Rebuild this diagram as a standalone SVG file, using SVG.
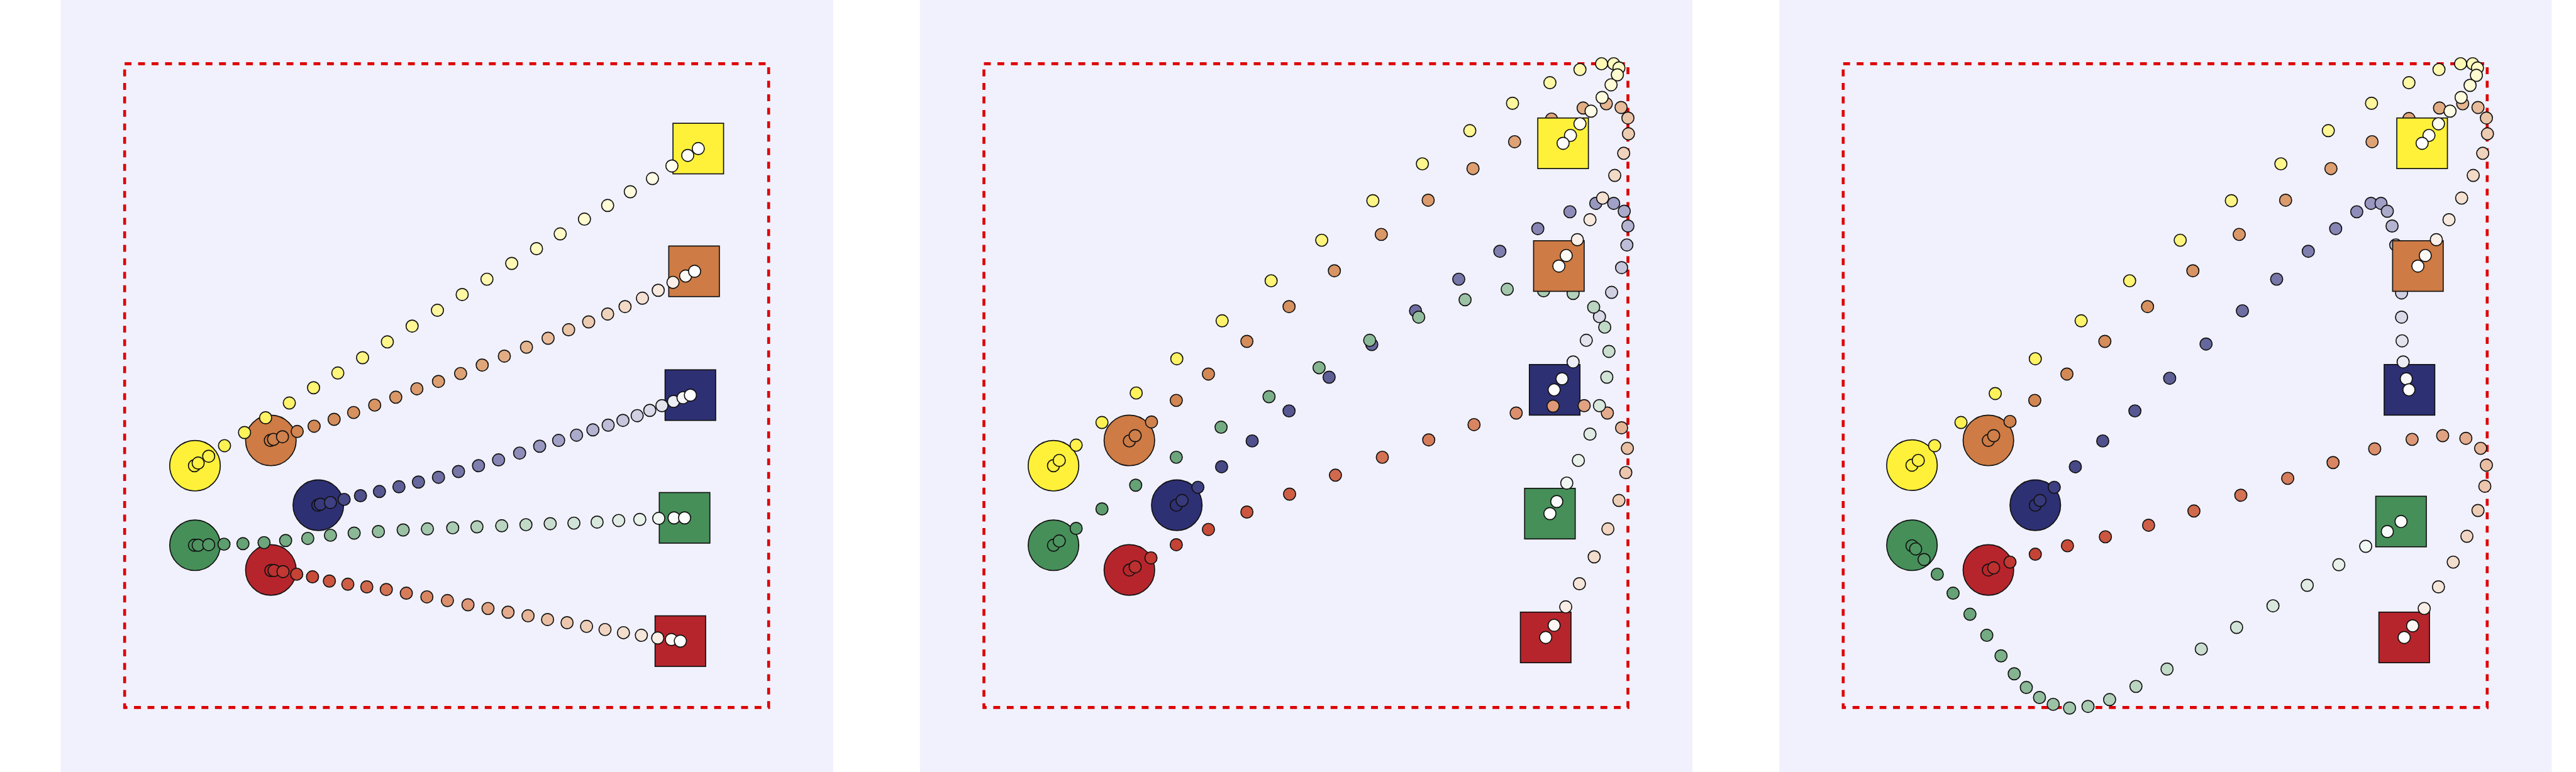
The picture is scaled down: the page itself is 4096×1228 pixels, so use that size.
<svg xmlns="http://www.w3.org/2000/svg" width="4096" height="1228" viewBox="0 0 4096 1228">
<style>
.bg{fill:#F1F1FD}
.bound{fill:none;stroke:#DD0000;stroke-width:5.5;stroke-dasharray:13 12.6}
.agent,.goal,.t circle{stroke:#111;stroke-width:2}
.cy{fill:#FFF13A}.co{fill:#CE7B45}.cn{fill:#2E3074}.cg{fill:#468F59}.cr{fill:#B7252C}
.N0{fill:#2F3175}.N1{fill:#37397B}.N2{fill:#3F4081}.N3{fill:#474886}.N4{fill:#4F508C}.N5{fill:#575792}.N6{fill:#5F5F98}.N7{fill:#66679D}.N8{fill:#6E6EA3}.N9{fill:#7676A9}.N10{fill:#7E7EAF}.N11{fill:#8685B4}.N12{fill:#8E8DBA}.N13{fill:#9797C0}.N14{fill:#A1A0C6}.N15{fill:#AAAACB}.N16{fill:#B4B3D1}.N17{fill:#BDBDD7}.N18{fill:#C6C6DD}.N19{fill:#D0D0E2}.N20{fill:#D9D9E8}.N21{fill:#E3E3EE}.N22{fill:#ECECF4}.N23{fill:#F6F6F9}.N24{fill:#FFFFFF}
.G0{fill:#468F59}.G1{fill:#4E9460}.G2{fill:#559867}.G3{fill:#5D9D6E}.G4{fill:#65A275}.G5{fill:#6DA67C}.G6{fill:#74AB82}.G7{fill:#7CB089}.G8{fill:#84B490}.G9{fill:#8BB997}.G10{fill:#93BE9E}.G11{fill:#9BC2A5}.G12{fill:#A3C7AC}.G13{fill:#AACCB3}.G14{fill:#B2D0BA}.G15{fill:#BAD5C1}.G16{fill:#C1DAC8}.G17{fill:#C9DECF}.G18{fill:#D1E3D6}.G19{fill:#D8E8DC}.G20{fill:#E0ECE3}.G21{fill:#E8F1EA}.G22{fill:#F0F6F1}.G23{fill:#F7FAF8}.G24{fill:#FFFFFF}
.Y0{fill:#FFEF3A}.Y1{fill:#FFF042}.Y2{fill:#FFF04A}.Y3{fill:#FFF153}.Y4{fill:#FFF25B}.Y5{fill:#FFF263}.Y6{fill:#FFF36B}.Y7{fill:#FFF473}.Y8{fill:#FFF47C}.Y9{fill:#FFF584}.Y10{fill:#FFF68C}.Y11{fill:#FFF694}.Y12{fill:#FFF79D}.Y13{fill:#FFF8A5}.Y14{fill:#FFF8AD}.Y15{fill:#FFF9B5}.Y16{fill:#FFFABD}.Y17{fill:#FFFAC6}.Y18{fill:#FFFBCE}.Y19{fill:#FFFCD6}.Y20{fill:#FFFCDE}.Y21{fill:#FFFDE6}.Y22{fill:#FFFEEF}.Y23{fill:#FFFEF7}.Y24{fill:#FFFFFF}
.O0{fill:#CD7B45}.O1{fill:#CF7F49}.O2{fill:#D0824E}.O3{fill:#D28652}.O4{fill:#D38956}.O5{fill:#D58D5B}.O6{fill:#D7915F}.O7{fill:#D89463}.O8{fill:#DA9868}.O9{fill:#DB9B6C}.O10{fill:#DD9F70}.O11{fill:#DEA275}.O12{fill:#E0A679}.O13{fill:#E3AD84}.O14{fill:#E5B58F}.O15{fill:#E8BC9B}.O16{fill:#EAC4A6}.O17{fill:#EDCBB1}.O18{fill:#F0D3BC}.O19{fill:#F2DAC7}.O20{fill:#F5E1D2}.O21{fill:#F7E9DE}.O22{fill:#FAF0E9}.O23{fill:#FCF8F4}.O24{fill:#FFFFFF}
.R0{fill:#B8262C}.R1{fill:#BC302F}.R2{fill:#C13932}.R3{fill:#C54335}.R4{fill:#C94C38}.R5{fill:#CC563F}.R6{fill:#CE5F46}.R7{fill:#D1694D}.R8{fill:#D47254}.R9{fill:#D67C5B}.R10{fill:#D98562}.R11{fill:#DC8F6D}.R12{fill:#DE9877}.R13{fill:#E1A282}.R14{fill:#E4AB8D}.R15{fill:#E6B597}.R16{fill:#E9BEA2}.R17{fill:#ECC6AD}.R18{fill:#EECEB7}.R19{fill:#F1D5C2}.R20{fill:#F3DDCC}.R21{fill:#F6E6D9}.R22{fill:#F9EEE6}.R23{fill:#FCF7F2}.R24{fill:#FFFFFF}
</style>
<rect width="4096" height="1228" fill="#FFFFFF"/>
<g transform="scale(0.83797)">
<!-- ================= PANEL 1 ================= -->
<g id="panel1">
<rect class="bg" x="115" y="0" width="1466" height="1466"/>
<rect class="bound" x="236.5" y="121" width="1222" height="1222"/>
<g id="p1-agent-yellow"><circle class="agent cy" cx="370" cy="884" r="48"/></g>
<g id="p1-agent-orange"><circle class="agent co" cx="514" cy="836" r="48"/></g>
<g id="p1-agent-navy"><circle class="agent cn" cx="604" cy="959" r="48"/></g>
<g id="p1-agent-green"><circle class="agent cg" cx="370" cy="1035" r="48"/></g>
<g id="p1-agent-red"><circle class="agent cr" cx="514" cy="1082" r="48"/></g>
<g id="p1-goal-navy"><rect class="goal cn" x="1262" y="702" width="96" height="96"/></g>
<g id="p1-goal-red"><rect class="goal cr" x="1243" y="1169" width="96" height="96"/></g>
<g id="p1-goal-green"><rect class="goal cg" x="1251" y="935" width="96" height="96"/></g>
<g id="p1-goal-orange"><rect class="goal co" x="1269" y="467" width="96" height="96"/></g>
<g id="p1-goal-yellow"><rect class="goal cy" x="1277" y="234" width="96" height="96"/></g>
<g id="p1-connectors">
<g class="t" id="p1-traj-navy">
<circle class="N0" cx="603" cy="959" r="11.5"/><circle class="N1" cx="608" cy="957" r="11.5"/><circle class="N2" cx="627" cy="954" r="11.5"/><circle class="N3" cx="653" cy="948" r="11.5"/><circle class="N4" cx="684" cy="941" r="11.5"/><circle class="N5" cx="720" cy="933" r="11.5"/><circle class="N6" cx="757" cy="924" r="11.5"/><circle class="N7" cx="794" cy="915" r="11.5"/><circle class="N8" cx="832" cy="906" r="11.5"/><circle class="N9" cx="870" cy="895" r="11.5"/><circle class="N10" cx="908" cy="884" r="11.5"/><circle class="N11" cx="946" cy="873" r="11.5"/><circle class="N12" cx="986" cy="860" r="11.5"/><circle class="N13" cx="1024" cy="847" r="11.5"/><circle class="N14" cx="1060" cy="836" r="11.5"/><circle class="N15" cx="1094" cy="826" r="11.5"/><circle class="N16" cx="1125" cy="816" r="11.5"/><circle class="N17" cx="1154" cy="807" r="11.5"/><circle class="N18" cx="1182" cy="798" r="11.5"/><circle class="N19" cx="1209" cy="789" r="11.5"/><circle class="N20" cx="1233" cy="779" r="11.5"/><circle class="N21" cx="1256" cy="770" r="11.5"/><circle class="N22" cx="1278" cy="762" r="11.5"/><circle class="N23" cx="1296" cy="755" r="11.5"/><circle class="N24" cx="1310" cy="750" r="11.5"/>
</g>
<g class="t" id="p1-traj-red">
<circle class="R0" cx="514" cy="1083" r="11.5"/><circle class="R1" cx="520" cy="1083" r="11.5"/><circle class="R2" cx="537" cy="1085" r="11.5"/><circle class="R3" cx="563" cy="1090" r="11.5"/><circle class="R4" cx="593" cy="1095" r="11.5"/><circle class="R5" cx="625" cy="1103" r="11.5"/><circle class="R6" cx="660" cy="1109" r="11.5"/><circle class="R7" cx="696" cy="1114" r="11.5"/><circle class="R8" cx="733" cy="1119" r="11.5"/><circle class="R9" cx="771" cy="1126" r="11.5"/><circle class="R10" cx="810" cy="1133" r="11.5"/><circle class="R11" cx="849" cy="1140" r="11.5"/><circle class="R12" cx="888" cy="1148" r="11.5"/><circle class="R13" cx="926" cy="1155" r="11.5"/><circle class="R14" cx="964" cy="1162" r="11.5"/><circle class="R15" cx="1002" cy="1169" r="11.5"/><circle class="R16" cx="1039" cy="1176" r="11.5"/><circle class="R17" cx="1076" cy="1182" r="11.5"/><circle class="R18" cx="1113" cy="1189" r="11.5"/><circle class="R19" cx="1148" cy="1195" r="11.5"/><circle class="R20" cx="1183" cy="1201" r="11.5"/><circle class="R21" cx="1217" cy="1206" r="11.5"/><circle class="R22" cx="1248" cy="1211" r="11.5"/><circle class="R23" cx="1274" cy="1214" r="11.5"/><circle class="R24" cx="1291" cy="1217" r="11.5"/>
</g>
<g class="t" id="p1-traj-green">
<circle class="G0" cx="369" cy="1035" r="11.5"/><circle class="G1" cx="376" cy="1035" r="11.5"/><circle class="G2" cx="396" cy="1034" r="11.5"/><circle class="G3" cx="425" cy="1033" r="11.5"/><circle class="G4" cx="461" cy="1032" r="11.5"/><circle class="G5" cx="501" cy="1030" r="11.5"/><circle class="G6" cx="542" cy="1026" r="11.5"/><circle class="G7" cx="584" cy="1022" r="11.5"/><circle class="G8" cx="627" cy="1016" r="11.5"/><circle class="G9" cx="672" cy="1012" r="11.5"/><circle class="G10" cx="718" cy="1009" r="11.5"/><circle class="G11" cx="765" cy="1006" r="11.5"/><circle class="G12" cx="811" cy="1004" r="11.5"/><circle class="G13" cx="859" cy="1002" r="11.5"/><circle class="G14" cx="905" cy="1000" r="11.5"/><circle class="G15" cx="952" cy="998" r="11.5"/><circle class="G16" cx="998" cy="996" r="11.5"/><circle class="G17" cx="1044" cy="994" r="11.5"/><circle class="G18" cx="1089" cy="993" r="11.5"/><circle class="G19" cx="1133" cy="991" r="11.5"/><circle class="G20" cx="1174" cy="988" r="11.5"/><circle class="G21" cx="1214" cy="986" r="11.5"/><circle class="G22" cx="1250" cy="984" r="11.5"/><circle class="G23" cx="1279" cy="983" r="11.5"/><circle class="G24" cx="1299" cy="983" r="11.5"/>
</g>
<g class="t" id="p1-traj-orange">
<circle class="O0" cx="513" cy="836" r="11.5"/><circle class="O1" cx="519" cy="834" r="11.5"/><circle class="O2" cx="536" cy="829" r="11.5"/><circle class="O3" cx="564" cy="819" r="11.5"/><circle class="O4" cx="596" cy="809" r="11.5"/><circle class="O5" cx="634" cy="796" r="11.5"/><circle class="O6" cx="671" cy="783" r="11.5"/><circle class="O7" cx="711" cy="769" r="11.5"/><circle class="O8" cx="751" cy="754" r="11.5"/><circle class="O9" cx="791" cy="738" r="11.5"/><circle class="O10" cx="832" cy="724" r="11.5"/><circle class="O11" cx="874" cy="709" r="11.5"/><circle class="O12" cx="915" cy="693" r="11.5"/><circle class="O13" cx="957" cy="676" r="11.5"/><circle class="O14" cx="999" cy="659" r="11.5"/><circle class="O15" cx="1040" cy="642" r="11.5"/><circle class="O16" cx="1079" cy="626" r="11.5"/><circle class="O17" cx="1117" cy="611" r="11.5"/><circle class="O18" cx="1153" cy="596" r="11.5"/><circle class="O19" cx="1186" cy="582" r="11.5"/><circle class="O20" cx="1219" cy="566" r="11.5"/><circle class="O21" cx="1249" cy="551" r="11.5"/><circle class="O22" cx="1277" cy="536" r="11.5"/><circle class="O23" cx="1301" cy="524" r="11.5"/><circle class="O24" cx="1318" cy="515" r="11.5"/>
</g>
<g class="t" id="p1-traj-yellow">
<circle class="Y0" cx="369" cy="884" r="11.5"/><circle class="Y1" cx="376" cy="879" r="11.5"/><circle class="Y2" cx="396" cy="866" r="11.5"/><circle class="Y3" cx="426" cy="846" r="11.5"/><circle class="Y4" cx="464" cy="821" r="11.5"/><circle class="Y5" cx="504" cy="793" r="11.5"/><circle class="Y6" cx="549" cy="765" r="11.5"/><circle class="Y7" cx="595" cy="736" r="11.5"/><circle class="Y8" cx="641" cy="708" r="11.5"/><circle class="Y9" cx="688" cy="679" r="11.5"/><circle class="Y10" cx="735" cy="649" r="11.5"/><circle class="Y11" cx="782" cy="619" r="11.5"/><circle class="Y12" cx="830" cy="589" r="11.5"/><circle class="Y13" cx="877" cy="559" r="11.5"/><circle class="Y14" cx="924" cy="530" r="11.5"/><circle class="Y15" cx="971" cy="500" r="11.5"/><circle class="Y16" cx="1018" cy="472" r="11.5"/><circle class="Y17" cx="1063" cy="444" r="11.5"/><circle class="Y18" cx="1109" cy="416" r="11.5"/><circle class="Y19" cx="1153" cy="390" r="11.5"/><circle class="Y20" cx="1196" cy="364" r="11.5"/><circle class="Y21" cx="1238" cy="339" r="11.5"/><circle class="Y22" cx="1275" cy="315" r="11.5"/><circle class="Y23" cx="1305" cy="295" r="11.5"/><circle class="Y24" cx="1325" cy="282" r="11.5"/>
</g>
</g>
</g>
<!-- ================= PANEL 2 ================= -->
<g id="panel2">
<rect class="bg" x="1745.5" y="0" width="1466" height="1466"/>
<rect class="bound" x="1867" y="121" width="1222" height="1222"/>
<g id="p2-agent-yellow"><circle class="agent cy" cx="1999" cy="884" r="48"/></g>
<g id="p2-agent-orange"><circle class="agent co" cx="2143" cy="836" r="48"/></g>
<g id="p2-agent-navy"><circle class="agent cn" cx="2233" cy="959" r="48"/></g>
<g id="p2-agent-green"><circle class="agent cg" cx="1999" cy="1035" r="48"/></g>
<g id="p2-agent-red"><circle class="agent cr" cx="2143" cy="1082" r="48"/></g>
<g id="p2-connectors">
<g id="p2-goal-navy"><rect class="goal cn" x="2902" y="692" width="96" height="96"/></g>
<g class="t" id="p2-traj-navy">
<circle class="N0" cx="2232" cy="959" r="11.5"/><circle class="N1" cx="2243" cy="950" r="11.5"/><circle class="N2" cx="2273" cy="925" r="11.5"/><circle class="N3" cx="2318" cy="886" r="11.5"/><circle class="N4" cx="2376" cy="837" r="11.5"/><circle class="N5" cx="2446" cy="780" r="11.5"/><circle class="N6" cx="2522" cy="716" r="11.5"/><circle class="N7" cx="2603" cy="654" r="11.5"/><circle class="N8" cx="2686" cy="590" r="11.5"/><circle class="N9" cx="2768" cy="530" r="11.5"/><circle class="N10" cx="2846" cy="477" r="11.5"/><circle class="N11" cx="2918" cy="434" r="11.5"/><circle class="N12" cx="2979" cy="402" r="11.5"/><circle class="N13" cx="3028" cy="386" r="11.5"/><circle class="N14" cx="3062" cy="386" r="11.5"/><circle class="N15" cx="3082" cy="401" r="11.5"/><circle class="N16" cx="3089" cy="429" r="11.5"/><circle class="N17" cx="3087" cy="465" r="11.5"/><circle class="N18" cx="3077" cy="508" r="11.5"/><circle class="N19" cx="3058" cy="555" r="11.5"/><circle class="N20" cx="3035" cy="601" r="11.5"/><circle class="N21" cx="3010" cy="646" r="11.5"/><circle class="N22" cx="2985" cy="687" r="11.5"/><circle class="N23" cx="2964" cy="719" r="11.5"/><circle class="N24" cx="2949" cy="740" r="11.5"/>
</g>
<g id="p2-goal-red"><rect class="goal cr" x="2885" y="1162" width="96" height="96"/></g>
<g class="t" id="p2-traj-red">
<circle class="R0" cx="2143" cy="1082" r="11.5"/><circle class="R1" cx="2154" cy="1076" r="11.5"/><circle class="R2" cx="2184" cy="1059" r="11.5"/><circle class="R3" cx="2232" cy="1034" r="11.5"/><circle class="R4" cx="2293" cy="1005" r="11.5"/><circle class="R5" cx="2366" cy="972" r="11.5"/><circle class="R6" cx="2447" cy="938" r="11.5"/><circle class="R7" cx="2534" cy="902" r="11.5"/><circle class="R8" cx="2623" cy="868" r="11.5"/><circle class="R9" cx="2711" cy="835" r="11.5"/><circle class="R10" cx="2797" cy="806" r="11.5"/><circle class="R11" cx="2877" cy="784" r="11.5"/><circle class="R12" cx="2947" cy="771" r="11.5"/><circle class="R13" cx="3006" cy="770" r="11.5"/><circle class="R14" cx="3050" cy="784" r="11.5"/><circle class="R15" cx="3077" cy="812" r="11.5"/><circle class="R16" cx="3088" cy="851" r="11.5"/><circle class="R17" cx="3085" cy="897" r="11.5"/><circle class="R18" cx="3072" cy="950" r="11.5"/><circle class="R19" cx="3051" cy="1004" r="11.5"/><circle class="R20" cx="3025" cy="1057" r="11.5"/><circle class="R21" cx="2997" cy="1108" r="11.5"/><circle class="R22" cx="2971" cy="1152" r="11.5"/><circle class="R23" cx="2949" cy="1187" r="11.5"/><circle class="R24" cx="2933" cy="1210" r="11.5"/>
</g>
<g id="p2-goal-green"><rect class="goal cg" x="2893" y="927" width="96" height="96"/></g>
<g class="t" id="p2-traj-green">
<circle class="G0" cx="1999" cy="1035" r="11.5"/><circle class="G1" cx="2010" cy="1027" r="11.5"/><circle class="G2" cx="2042" cy="1003" r="11.5"/><circle class="G3" cx="2091" cy="966" r="11.5"/><circle class="G4" cx="2155" cy="921" r="11.5"/><circle class="G5" cx="2232" cy="868" r="11.5"/><circle class="G6" cx="2317" cy="811" r="11.5"/><circle class="G7" cx="2408" cy="753" r="11.5"/><circle class="G8" cx="2503" cy="698" r="11.5"/><circle class="G9" cx="2599" cy="646" r="11.5"/><circle class="G10" cx="2692" cy="602" r="11.5"/><circle class="G11" cx="2780" cy="569" r="11.5"/><circle class="G12" cx="2860" cy="549" r="11.5"/><circle class="G13" cx="2929" cy="552" r="11.5"/><circle class="G14" cx="2985" cy="557" r="11.5"/><circle class="G15" cx="3024" cy="583" r="11.5"/><circle class="G16" cx="3045" cy="621" r="11.5"/><circle class="G17" cx="3053" cy="667" r="11.5"/><circle class="G18" cx="3049" cy="716" r="11.5"/><circle class="G19" cx="3035" cy="770" r="11.5"/><circle class="G20" cx="3017" cy="824" r="11.5"/><circle class="G21" cx="2995" cy="874" r="11.5"/><circle class="G22" cx="2973" cy="917" r="11.5"/><circle class="G23" cx="2954" cy="952" r="11.5"/><circle class="G24" cx="2941" cy="975" r="11.5"/>
</g>
<g id="p2-goal-orange"><rect class="goal co" x="2910" y="457" width="96" height="96"/></g>
<g class="t" id="p2-traj-orange">
<circle class="O0" cx="2143" cy="837" r="11.5"/><circle class="O1" cx="2154" cy="827" r="11.5"/><circle class="O2" cx="2185" cy="801" r="11.5"/><circle class="O3" cx="2232" cy="760" r="11.5"/><circle class="O4" cx="2293" cy="710" r="11.5"/><circle class="O5" cx="2366" cy="648" r="11.5"/><circle class="O6" cx="2446" cy="582" r="11.5"/><circle class="O7" cx="2532" cy="514" r="11.5"/><circle class="O8" cx="2621" cy="445" r="11.5"/><circle class="O9" cx="2710" cy="380" r="11.5"/><circle class="O10" cx="2795" cy="320" r="11.5"/><circle class="O11" cx="2874" cy="269" r="11.5"/><circle class="O12" cx="2944" cy="226" r="11.5"/><circle class="O13" cx="3004" cy="205" r="11.5"/><circle class="O14" cx="3048" cy="197" r="11.5"/><circle class="O15" cx="3076" cy="204" r="11.5"/><circle class="O16" cx="3089" cy="224" r="11.5"/><circle class="O17" cx="3090" cy="254" r="11.5"/><circle class="O18" cx="3081" cy="291" r="11.5"/><circle class="O19" cx="3064" cy="333" r="11.5"/><circle class="O20" cx="3041" cy="376" r="11.5"/><circle class="O21" cx="3017" cy="417" r="11.5"/><circle class="O22" cx="2993" cy="455" r="11.5"/><circle class="O23" cx="2972" cy="485" r="11.5"/><circle class="O24" cx="2958" cy="505" r="11.5"/>
</g>
<g id="p2-goal-yellow"><rect class="goal cy" x="2918" y="224" width="96" height="96"/></g>
<g class="t" id="p2-traj-yellow">
<circle class="Y0" cx="1999" cy="884" r="11.5"/><circle class="Y1" cx="2010" cy="874" r="11.5"/><circle class="Y2" cx="2042" cy="845" r="11.5"/><circle class="Y3" cx="2091" cy="802" r="11.5"/><circle class="Y4" cx="2156" cy="746" r="11.5"/><circle class="Y5" cx="2233" cy="681" r="11.5"/><circle class="Y6" cx="2319" cy="609" r="11.5"/><circle class="Y7" cx="2412" cy="533" r="11.5"/><circle class="Y8" cx="2508" cy="456" r="11.5"/><circle class="Y9" cx="2605" cy="381" r="11.5"/><circle class="Y10" cx="2699" cy="311" r="11.5"/><circle class="Y11" cx="2789" cy="248" r="11.5"/><circle class="Y12" cx="2870" cy="196" r="11.5"/><circle class="Y13" cx="2941" cy="157" r="11.5"/><circle class="Y14" cx="2998" cy="132" r="11.5"/><circle class="Y15" cx="3039" cy="121" r="11.5"/><circle class="Y16" cx="3062" cy="121" r="11.5"/><circle class="Y17" cx="3072" cy="129" r="11.5"/><circle class="Y18" cx="3069" cy="142" r="11.5"/><circle class="Y19" cx="3057" cy="161" r="11.5"/><circle class="Y20" cx="3040" cy="185" r="11.5"/><circle class="Y21" cx="3019" cy="211" r="11.5"/><circle class="Y22" cx="2998" cy="235" r="11.5"/><circle class="Y23" cx="2980" cy="257" r="11.5"/><circle class="Y24" cx="2966" cy="272" r="11.5"/>
</g>
</g>
</g>
<!-- ================= PANEL 3 ================= -->
<g id="panel3">
<rect class="bg" x="3376" y="0" width="1466" height="1466"/>
<rect class="bound" x="3497.5" y="121" width="1222" height="1222"/>
<g id="p3-agent-yellow"><circle class="agent cy" cx="3628" cy="883" r="48"/></g>
<g id="p3-agent-orange"><circle class="agent co" cx="3773" cy="836" r="48"/></g>
<g id="p3-agent-navy"><circle class="agent cn" cx="3862" cy="959" r="48"/></g>
<g id="p3-agent-green"><circle class="agent cg" cx="3628" cy="1035" r="48"/></g>
<g id="p3-agent-red"><circle class="agent cr" cx="3773" cy="1082" r="48"/></g>
<g id="p3-connectors">
<g id="p3-goal-navy"><rect class="goal cn" x="4524" y="692" width="96" height="96"/></g>
<g class="t" id="p3-traj-navy">
<circle class="N0" cx="3862" cy="959" r="11.5"/><circle class="N1" cx="3871" cy="950" r="11.5"/><circle class="N2" cx="3898" cy="925" r="11.5"/><circle class="N3" cx="3938" cy="886" r="11.5"/><circle class="N4" cx="3990" cy="837" r="11.5"/><circle class="N5" cx="4051" cy="780" r="11.5"/><circle class="N6" cx="4117" cy="718" r="11.5"/><circle class="N7" cx="4186" cy="653" r="11.5"/><circle class="N8" cx="4255" cy="590" r="11.5"/><circle class="N9" cx="4320" cy="530" r="11.5"/><circle class="N10" cx="4380" cy="477" r="11.5"/><circle class="N11" cx="4432" cy="434" r="11.5"/><circle class="N12" cx="4472" cy="402" r="11.5"/><circle class="N13" cx="4499" cy="386" r="11.5"/><circle class="N14" cx="4518" cy="386" r="11.5"/><circle class="N15" cx="4530" cy="401" r="11.5"/><circle class="N16" cx="4539" cy="429" r="11.5"/><circle class="N17" cx="4546" cy="465" r="11.5"/><circle class="N18" cx="4553" cy="511" r="11.5"/><circle class="N19" cx="4557" cy="556" r="11.5"/><circle class="N20" cx="4557" cy="602" r="11.5"/><circle class="N21" cx="4558" cy="647" r="11.5"/><circle class="N22" cx="4560" cy="687" r="11.5"/><circle class="N23" cx="4566" cy="719" r="11.5"/><circle class="N24" cx="4571" cy="740" r="11.5"/>
</g>
<g id="p3-goal-red"><rect class="goal cr" x="4514" y="1162" width="96" height="96"/></g>
<g class="t" id="p3-traj-red">
<circle class="R0" cx="3773" cy="1082" r="11.5"/><circle class="R1" cx="3783" cy="1078" r="11.5"/><circle class="R2" cx="3814" cy="1067" r="11.5"/><circle class="R3" cx="3862" cy="1052" r="11.5"/><circle class="R4" cx="3923" cy="1036" r="11.5"/><circle class="R5" cx="3995" cy="1019" r="11.5"/><circle class="R6" cx="4077" cy="997" r="11.5"/><circle class="R7" cx="4163" cy="970" r="11.5"/><circle class="R8" cx="4252" cy="940" r="11.5"/><circle class="R9" cx="4341" cy="908" r="11.5"/><circle class="R10" cx="4427" cy="878" r="11.5"/><circle class="R11" cx="4506" cy="852" r="11.5"/><circle class="R12" cx="4577" cy="834" r="11.5"/><circle class="R13" cx="4635" cy="827" r="11.5"/><circle class="R14" cx="4679" cy="832" r="11.5"/><circle class="R15" cx="4707" cy="851" r="11.5"/><circle class="R16" cx="4718" cy="883" r="11.5"/><circle class="R17" cx="4715" cy="923" r="11.5"/><circle class="R18" cx="4702" cy="969" r="11.5"/><circle class="R19" cx="4681" cy="1018" r="11.5"/><circle class="R20" cx="4655" cy="1067" r="11.5"/><circle class="R21" cx="4627" cy="1114" r="11.5"/><circle class="R22" cx="4600" cy="1155" r="11.5"/><circle class="R23" cx="4578" cy="1188" r="11.5"/><circle class="R24" cx="4562" cy="1210" r="11.5"/>
</g>
<g id="p3-goal-green"><rect class="goal cg" x="4508" y="942" width="96" height="96"/></g>
<g class="t" id="p3-traj-green">
<circle class="G0" cx="3628" cy="1036" r="11.5"/><circle class="G1" cx="3635" cy="1042" r="11.5"/><circle class="G2" cx="3651" cy="1062" r="11.5"/><circle class="G3" cx="3676" cy="1090" r="11.5"/><circle class="G4" cx="3706" cy="1126" r="11.5"/><circle class="G5" cx="3738" cy="1166" r="11.5"/><circle class="G6" cx="3770" cy="1206" r="11.5"/><circle class="G7" cx="3797" cy="1245" r="11.5"/><circle class="G8" cx="3822" cy="1279" r="11.5"/><circle class="G9" cx="3845" cy="1305" r="11.5"/><circle class="G10" cx="3870" cy="1324" r="11.5"/><circle class="G11" cx="3896" cy="1337" r="11.5"/><circle class="G12" cx="3927" cy="1344" r="11.5"/><circle class="G13" cx="3962" cy="1341" r="11.5"/><circle class="G14" cx="4003" cy="1328" r="11.5"/><circle class="G15" cx="4053" cy="1303" r="11.5"/><circle class="G16" cx="4112" cy="1270" r="11.5"/><circle class="G17" cx="4177" cy="1232" r="11.5"/><circle class="G18" cx="4244" cy="1191" r="11.5"/><circle class="G19" cx="4313" cy="1150" r="11.5"/><circle class="G20" cx="4378" cy="1111" r="11.5"/><circle class="G21" cx="4438" cy="1072" r="11.5"/><circle class="G22" cx="4489" cy="1037" r="11.5"/><circle class="G23" cx="4530" cy="1009" r="11.5"/><circle class="G24" cx="4556" cy="990" r="11.5"/>
</g>
<g id="p3-goal-orange"><rect class="goal co" x="4540" y="457" width="96" height="96"/></g>
<g class="t" id="p3-traj-orange">
<circle class="O0" cx="3773" cy="836" r="11.5"/><circle class="O1" cx="3783" cy="827" r="11.5"/><circle class="O2" cx="3814" cy="800" r="11.5"/><circle class="O3" cx="3861" cy="760" r="11.5"/><circle class="O4" cx="3922" cy="710" r="11.5"/><circle class="O5" cx="3994" cy="648" r="11.5"/><circle class="O6" cx="4075" cy="582" r="11.5"/><circle class="O7" cx="4161" cy="514" r="11.5"/><circle class="O8" cx="4249" cy="445" r="11.5"/><circle class="O9" cx="4337" cy="380" r="11.5"/><circle class="O10" cx="4423" cy="320" r="11.5"/><circle class="O11" cx="4501" cy="269" r="11.5"/><circle class="O12" cx="4571" cy="225" r="11.5"/><circle class="O13" cx="4629" cy="205" r="11.5"/><circle class="O14" cx="4673" cy="197" r="11.5"/><circle class="O15" cx="4702" cy="204" r="11.5"/><circle class="O16" cx="4718" cy="224" r="11.5"/><circle class="O17" cx="4720" cy="254" r="11.5"/><circle class="O18" cx="4711" cy="291" r="11.5"/><circle class="O19" cx="4693" cy="333" r="11.5"/><circle class="O20" cx="4671" cy="376" r="11.5"/><circle class="O21" cx="4647" cy="417" r="11.5"/><circle class="O22" cx="4623" cy="455" r="11.5"/><circle class="O23" cx="4602" cy="485" r="11.5"/><circle class="O24" cx="4588" cy="505" r="11.5"/>
</g>
<g id="p3-goal-yellow"><rect class="goal cy" x="4548" y="224" width="96" height="96"/></g>
<g class="t" id="p3-traj-yellow">
<circle class="Y0" cx="3628" cy="883" r="11.5"/><circle class="Y1" cx="3640" cy="874" r="11.5"/><circle class="Y2" cx="3671" cy="846" r="11.5"/><circle class="Y3" cx="3721" cy="802" r="11.5"/><circle class="Y4" cx="3786" cy="747" r="11.5"/><circle class="Y5" cx="3862" cy="681" r="11.5"/><circle class="Y6" cx="3949" cy="609" r="11.5"/><circle class="Y7" cx="4041" cy="533" r="11.5"/><circle class="Y8" cx="4137" cy="456" r="11.5"/><circle class="Y9" cx="4234" cy="381" r="11.5"/><circle class="Y10" cx="4328" cy="311" r="11.5"/><circle class="Y11" cx="4418" cy="248" r="11.5"/><circle class="Y12" cx="4500" cy="196" r="11.5"/><circle class="Y13" cx="4571" cy="157" r="11.5"/><circle class="Y14" cx="4628" cy="132" r="11.5"/><circle class="Y15" cx="4669" cy="121" r="11.5"/><circle class="Y16" cx="4692" cy="121" r="11.5"/><circle class="Y17" cx="4701" cy="129" r="11.5"/><circle class="Y18" cx="4699" cy="143" r="11.5"/><circle class="Y19" cx="4687" cy="162" r="11.5"/><circle class="Y20" cx="4670" cy="185" r="11.5"/><circle class="Y21" cx="4649" cy="211" r="11.5"/><circle class="Y22" cx="4627" cy="235" r="11.5"/><circle class="Y23" cx="4609" cy="257" r="11.5"/><circle class="Y24" cx="4596" cy="272" r="11.5"/>
</g>
</g>
</g>
</g>
</svg>
